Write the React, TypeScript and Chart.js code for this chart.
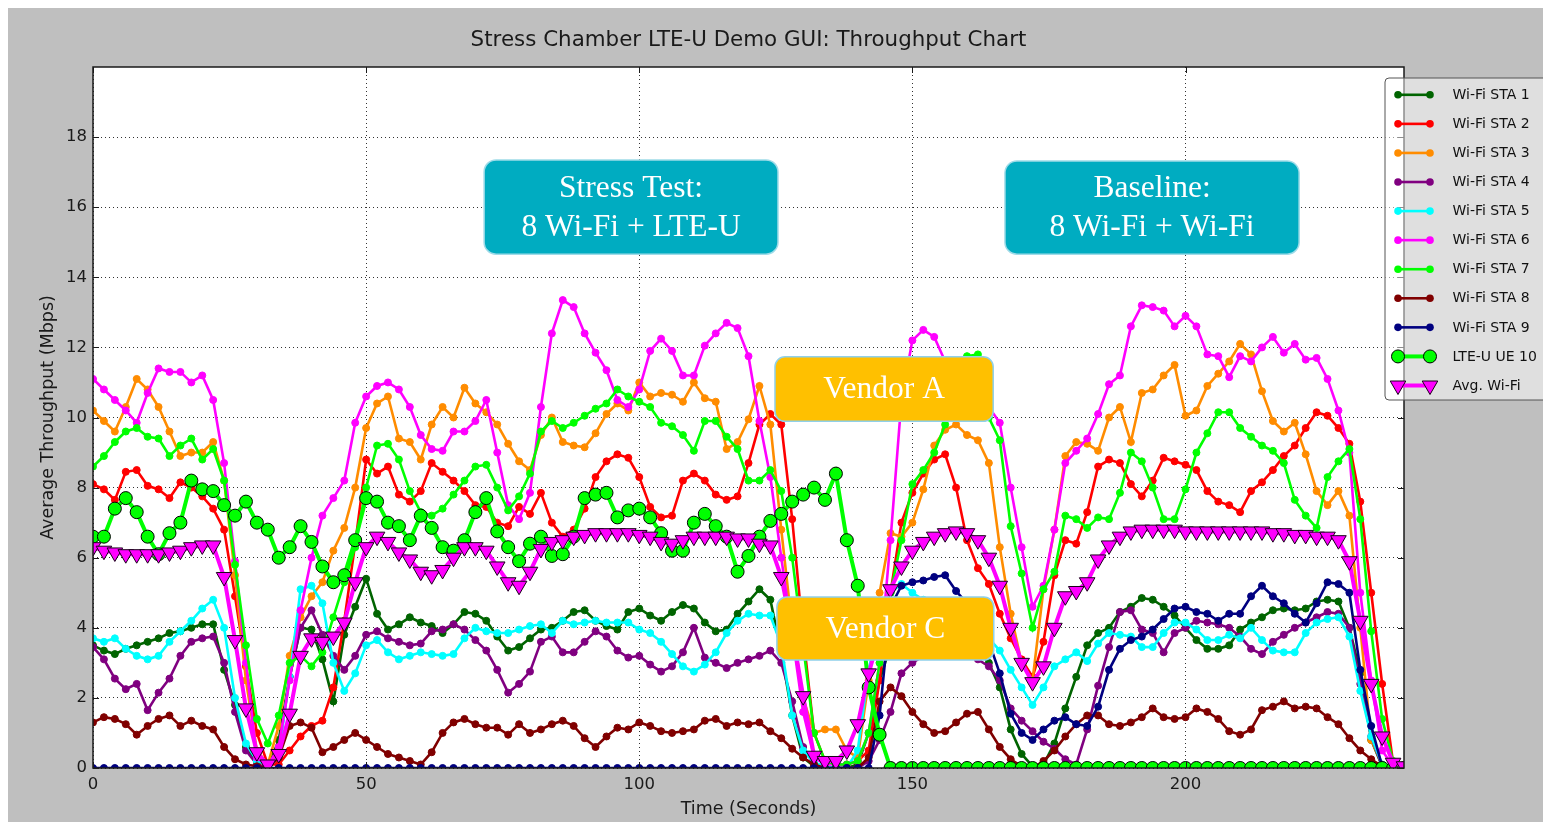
import React, { useEffect, useRef } from 'react';
import { Chart, registerables } from 'chart.js';

Chart.register(...registerables);

// ---------- data (sampled every 2 s) ----------
const TIME = [
  0, 2, 4, 6, 8, 10, 12, 14, 16, 18, 20, 22, 24, 26, 28, 30, 32, 34, 36, 38,
  40, 42, 44, 46, 48, 50, 52, 54, 56, 58, 60, 62, 64, 66, 68, 70, 72, 74, 76, 78,
  80, 82, 84, 86, 88, 90, 92, 94, 96, 98, 100, 102, 104, 106, 108, 110, 112, 114, 116, 118,
  120, 122, 124, 126, 128, 130, 132, 134, 136, 138, 140, 142, 144, 146, 148, 150, 152, 154, 156, 158,
  160, 162, 164, 166, 168, 170, 172, 174, 176, 178, 180, 182, 184, 186, 188, 190, 192, 194, 196, 198,
  200, 202, 204, 206, 208, 210, 212, 214, 216, 218, 220, 222, 224, 226, 228, 230, 232, 234, 236, 238,
  240,
];

const STA1 = [
  3.5, 3.35, 3.25, 3.4, 3.5, 3.6, 3.7, 3.85, 3.9, 4.0, 4.1, 4.1,
  2.8, 1.8, 0.6, 0.1, 0.0, 0.8, 2.6, 4.0, 3.95, 3.1, 1.9, 3.8, 4.6, 5.4, 4.4, 3.95, 4.1, 4.3, 4.15,
  4.05, 3.85, 4.1, 4.45, 4.4, 4.2, 3.75, 3.35, 3.45, 3.7, 3.95, 4.0, 4.2, 4.45, 4.5,
  4.2, 4.05, 3.95, 4.45, 4.55, 4.35, 4.2, 4.45, 4.65, 4.55, 4.15, 3.9, 3.95, 4.4, 4.75,
  5.1, 4.8, 3.3, 1.5, 0.3, 0.05, 0, 0, 0, 0.1, 1.0, 2.5, 3.5, 3.8, 3.9,
  3.9, 3.8, 3.8, 3.7, 3.6, 3.4, 3.0, 2.3, 1.1, 0.4, 0.05, 0.1, 0.7, 1.7, 2.6,
  3.5, 3.85, 4.0, 4.45, 4.6, 4.85, 4.8, 4.6, 4.35, 4.0, 3.65, 3.4, 3.4, 3.5, 3.95,
  4.15, 4.3, 4.5, 4.55, 4.5, 4.55, 4.75, 4.8, 4.75, 4.0, 2.7, 0.8, 0.05, 0, 0,
];

const STA2 = [
  8.1, 7.95, 7.65, 8.45, 8.5, 8.05, 7.95, 7.7, 8.15, 8.0, 7.75, 7.4,
  6.8, 4.9, 2.9, 1.0, 0.1, 0.1, 0.5, 0.9, 1.2, 1.35, 2.3, 4.2, 6.4, 8.8, 8.4, 8.6, 7.8, 7.6, 7.9,
  8.7, 8.45, 8.2, 7.9, 7.5, 7.45, 7.0, 6.9, 7.45, 7.25, 7.85, 7.0, 6.6, 6.8, 7.4,
  8.3, 8.75, 8.95, 8.85, 8.3, 7.45, 7.15, 7.2, 8.2, 8.4, 8.2, 7.8, 7.65, 7.75, 8.7,
  9.8, 10.1, 9.8, 7.1, 3.8, 1.0, 0.2, 0.1, 0.1, 0.2, 0.5, 2.5, 5.0, 7.0, 7.85,
  8.4, 8.8, 8.95, 8.0, 6.5, 5.7, 5.25, 4.4, 3.7, 3.1, 2.6, 3.6, 5.5, 6.5, 6.4,
  7.3, 8.6, 8.8, 8.7, 8.1, 7.75, 8.2, 8.85, 8.75, 8.65, 8.5, 7.9, 7.6, 7.5, 7.3,
  7.9, 8.15, 8.5, 8.9, 9.2, 9.7, 10.15, 10.05, 9.7, 9.25, 7.6, 5.0, 2.4, 0.15, 0,
];

const STA3 = [
  10.2, 9.9, 9.6, 10.3, 11.1, 10.8, 10.3, 9.6, 8.9, 9.0, 9.0, 9.3,
  8.2, 5.5, 2.5, 0.5, 0.1, 1.2, 3.2, 4.3, 4.9, 5.3, 6.2, 6.85, 8.0, 9.7, 10.4, 10.6, 9.4, 9.3, 8.8,
  9.8, 10.3, 10.0, 10.85, 10.4, 10.15, 9.8, 9.25, 8.75, 8.5, 9.5, 10.0, 9.3, 9.2, 9.15,
  9.55, 10.1, 10.4, 10.2, 11.0, 10.6, 10.7, 10.65, 10.45, 11.0, 10.55, 10.45, 9.1, 9.3, 9.95,
  10.9, 9.8, 6.8, 4.0, 2.0, 1.0, 1.1, 1.1, 0.5, 0.3, 2.5, 5.0, 6.7, 6.6, 7.0,
  7.95, 9.2, 9.65, 9.8, 9.5, 9.35, 8.7, 6.3, 4.4, 3.0, 2.5, 5.1, 6.8, 8.9, 9.3,
  9.25, 9.05, 10.0, 10.3, 9.3, 10.7, 10.8, 11.2, 11.5, 10.05, 10.2, 10.9, 11.25, 11.6, 12.1,
  11.8, 10.75, 9.9, 9.6, 9.85, 8.95, 7.9, 7.5, 7.9, 7.2, 4.0, 0.8, 0.1, 0, 0,
];

const STA4 = [
  3.45, 3.1, 2.55, 2.25, 2.4, 1.65, 2.15, 2.55, 3.2, 3.6, 3.7, 3.75,
  3.0, 1.6, 0.5, 0.1, 0.0, 0.5, 2.6, 4.0, 4.5, 3.8, 3.2, 2.8, 3.2, 3.8, 3.9, 3.7, 3.6, 3.5, 3.55,
  3.9, 3.95, 4.1, 3.95, 3.65, 3.35, 2.8, 2.15, 2.4, 2.75, 3.6, 3.75, 3.3, 3.3, 3.6,
  3.9, 3.75, 3.35, 3.15, 3.2, 2.95, 2.75, 2.9, 3.3, 4.0, 3.15, 3.0, 2.85, 3.0, 3.1,
  3.2, 3.35, 3.0, 1.9, 0.6, 0.1, 0, 0, 0, 0, 0.2, 0.8, 1.6, 2.7, 3.0,
  3.2, 3.3, 3.3, 3.3, 3.2, 3.1, 2.9, 2.5, 1.7, 1.35, 1.05, 0.75, 0.55, 0.25, 0.1,
  1.1, 2.35, 3.45, 4.45, 4.5, 3.95, 3.85, 3.3, 3.85, 4.0, 4.2, 4.15, 4.1, 4.0, 3.75,
  3.4, 3.25, 3.6, 3.8, 4.0, 4.15, 4.3, 4.45, 4.4, 4.0, 2.4, 0.9, 0.05, 0, 0,
];

const STA5 = [
  3.7, 3.6, 3.7, 3.4, 3.2, 3.1, 3.2, 3.6, 3.9, 4.2, 4.55, 4.8,
  4.0, 2.0, 0.7, 0.2, 0.1, 0.4, 2.6, 5.1, 5.2, 4.7, 3.0, 2.2, 2.7, 3.5, 3.65, 3.3, 3.1, 3.2, 3.3,
  3.25, 3.2, 3.25, 3.7, 4.0, 3.9, 3.85, 3.85, 3.95, 4.05, 4.1, 3.85, 4.2, 4.1, 4.15,
  4.2, 4.15, 4.15, 4.15, 3.95, 3.85, 3.6, 3.25, 2.9, 2.75, 2.95, 3.3, 3.85, 4.2, 4.4,
  4.35, 4.35, 3.5, 1.5, 0.5, 0.15, 0.05, 0, 0, 0.5, 2.8, 4.2, 5.0, 5.25, 5.0,
  4.8, 4.6, 4.5, 4.4, 4.3, 4.0, 3.7, 3.35, 2.8, 2.3, 1.8, 2.3, 2.9, 3.1, 3.3,
  3.05, 3.55, 3.85, 3.8, 3.75, 3.45, 3.45, 3.85, 4.15, 4.15, 3.95, 3.65, 3.65, 3.8, 3.7,
  4.0, 3.65, 3.35, 3.3, 3.3, 3.85, 4.15, 4.25, 4.3, 3.75, 2.2, 0.9, 0.1, 0, 0,
];

const STA6 = [
  11.1, 10.8, 10.5, 10.2, 9.85, 10.7, 11.4, 11.3, 11.3, 11.0, 11.2, 10.5,
  8.7, 5.9, 3.0, 0.3, 0.05, 0.6, 2.5, 4.5, 6.0, 7.2, 7.7, 8.2, 9.85, 10.6, 10.9, 11.0, 10.8, 10.3, 9.5,
  9.1, 9.05, 9.6, 9.6, 9.9, 10.5, 9.0, 7.5, 7.1, 7.85, 10.3, 12.4, 13.35, 13.15, 12.4,
  11.85, 11.35, 10.5, 10.3, 10.8, 11.9, 12.25, 11.9, 11.2, 11.2, 12.05, 12.4, 12.7, 12.55, 11.75,
  9.9, 8.3, 6.0, 3.8, 1.6, 0.3, 0.1, 0.1, 0.1, 0.2, 1.0, 3.0, 6.5, 10.5, 12.2,
  12.5, 12.3, 11.6, 11.2, 10.9, 10.6, 10.3, 9.85, 8.0, 6.3, 4.6, 5.2, 6.8, 8.7, 9.05,
  9.4, 10.1, 10.95, 11.2, 12.6, 13.2, 13.15, 13.05, 12.6, 12.9, 12.6, 11.8, 11.75, 11.15, 11.75,
  11.6, 12.0, 12.3, 11.85, 12.1, 11.65, 11.7, 11.1, 10.2, 9.0, 5.0, 2.5, 0.5, 0.05, 0,
];

const STA7 = [
  8.6, 8.9, 9.3, 9.6, 9.7, 9.45, 9.4, 8.9, 9.2, 9.4, 8.8, 9.1,
  8.2, 5.8, 3.5, 1.4, 0.7, 1.5, 3.0, 3.2, 2.9, 3.3, 4.3, 5.3, 6.3, 8.0, 9.2, 9.25, 8.8, 7.9, 7.3,
  7.2, 7.4, 7.8, 8.2, 8.6, 8.65, 8.0, 7.35, 7.75, 8.4, 9.6, 9.9, 9.7, 9.85, 10.05,
  10.25, 10.4, 10.8, 10.6, 10.45, 10.3, 9.85, 9.75, 9.5, 9.05, 9.9, 9.9, 9.45, 9.1, 8.2,
  8.2, 8.5, 7.9, 6.0, 3.5, 1.0, 0.2, 0.1, 0.1, 0.2, 1.0, 3.0, 5.0, 6.5, 8.1,
  8.5, 9.0, 9.8, 11.0, 11.75, 11.8, 10.0, 9.35, 6.9, 5.55, 4.0, 5.1, 5.6, 7.2, 7.1,
  6.85, 7.15, 7.1, 7.85, 9.0, 8.75, 8.0, 7.1, 7.1, 7.95, 9.0, 9.55, 10.15, 10.15, 9.7,
  9.45, 9.2, 9.05, 8.7, 7.65, 7.2, 6.85, 8.3, 8.75, 9.1, 7.1, 3.9, 1.4, 0.2, 0,
];

const STA8 = [
  1.3, 1.45, 1.4, 1.25, 0.95, 1.2, 1.4, 1.5, 1.2, 1.35, 1.2, 1.1,
  0.6, 0.25, 0.1, 0.05, 0.0, 0.3, 1.2, 1.3, 1.15, 0.45, 0.6, 0.8, 1.0, 0.8, 0.6, 0.4, 0.3, 0.2, 0.1,
  0.45, 1.0, 1.3, 1.4, 1.25, 1.15, 1.15, 0.95, 1.25, 1.0, 1.1, 1.25, 1.35, 1.2, 0.85,
  0.6, 0.9, 1.15, 1.1, 1.3, 1.2, 1.05, 1.0, 1.05, 1.1, 1.35, 1.4, 1.2, 1.3, 1.25,
  1.3, 1.05, 0.85, 0.55, 0.3, 0.1, 0, 0, 0, 0, 0.3, 1.9, 2.3, 2.05, 1.6,
  1.25, 1.0, 1.05, 1.3, 1.55, 1.6, 1.1, 0.6, 0.25, 0.05, 0, 0.2, 0.5, 0.9, 1.25,
  1.5, 1.5, 1.25, 1.2, 1.3, 1.45, 1.7, 1.45, 1.4, 1.45, 1.7, 1.6, 1.4, 1.05, 0.95,
  1.1, 1.65, 1.75, 1.9, 1.7, 1.75, 1.7, 1.45, 1.25, 0.85, 0.5, 0.25, 0.05, 0, 0,
];

const STA9 = [
  0, 0, 0, 0, 0, 0, 0, 0, 0, 0, 0, 0,
  0, 0, 0, 0, 0, 0, 0, 0, 0, 0, 0, 0, 0, 0, 0, 0, 0, 0, 0,
  0, 0, 0, 0, 0, 0, 0, 0, 0, 0, 0, 0, 0, 0, 0,
  0, 0, 0, 0, 0, 0, 0, 0, 0, 0, 0, 0, 0, 0, 0,
  0, 0, 0, 0, 0, 0, 0, 0, 0, 0, 0, 1.5, 4.6, 5.2, 5.3,
  5.35, 5.45, 5.5, 5.05, 4.7, 4.2, 3.6, 2.7, 1.55, 1.0, 0.8, 1.1, 1.35, 1.45, 1.25,
  1.2, 1.75, 2.8, 3.4, 3.65, 3.75, 3.95, 4.25, 4.55, 4.6, 4.45, 4.4, 4.2, 4.4, 4.4,
  4.9, 5.2, 4.9, 4.7, 4.4, 4.15, 4.7, 5.3, 5.25, 5.0, 2.8, 1.2, 0.05, 0, 0,
];

const LTE_UE10 = [
  6.6, 6.6, 7.4, 7.7, 7.3, 6.6, 6.1, 6.7, 7.0, 8.2, 7.95, 7.9,
  7.5, 7.2, 7.6, 7.0, 6.8, 6.0, 6.3, 6.9, 6.45, 5.75, 5.3, 5.5, 6.5, 7.7, 7.6, 7.0, 6.9, 6.5, 7.2,
  6.85, 6.3, 6.2, 6.5, 7.3, 7.7, 6.75, 6.3, 5.9, 6.4, 6.6, 6.05, 6.1, 6.6, 7.7,
  7.8, 7.85, 7.15, 7.35, 7.4, 7.15, 6.7, 6.2, 6.2, 7.0, 7.25, 6.9, 6.6, 5.6, 6.05,
  6.6, 7.05, 7.25, 7.6, 7.8, 8.0, 7.65, 8.4, 6.5, 5.2, 2.3, 0.95, 0, 0, 0,
  0, 0, 0, 0, 0, 0, 0, 0, 0, 0, 0, 0, 0, 0, 0,
  0, 0, 0, 0, 0, 0, 0, 0, 0, 0, 0, 0, 0, 0, 0,
  0, 0, 0, 0, 0, 0, 0, 0, 0, 0, 0, 0, 0, 0, 0,
];

const AVG_WIFI = [
  6.3, 6.2, 6.15, 6.1, 6.1, 6.1, 6.1, 6.15, 6.2, 6.3, 6.35, 6.35,
  5.45, 3.65, 1.7, 0.45, 0.1, 0.4, 1.55, 3.2, 3.7, 3.6, 3.75, 4.15, 5.3, 6.3, 6.6, 6.45, 6.15, 5.95, 5.6,
  5.5, 5.65, 6.0, 6.3, 6.3, 6.2, 5.75, 5.3, 5.2, 5.6, 6.25, 6.45, 6.5, 6.6, 6.65,
  6.7, 6.7, 6.7, 6.7, 6.65, 6.6, 6.45, 6.4, 6.5, 6.6, 6.6, 6.6, 6.6, 6.55, 6.55,
  6.4, 6.35, 5.45, 3.9, 2.05, 0.35, 0.2, 0.2, 0.5, 1.25, 2.7, 3.8, 5.1, 5.75, 6.2,
  6.45, 6.6, 6.7, 6.75, 6.7, 6.5, 6.0, 5.2, 4.0, 3.0, 2.45, 2.9, 4.0, 4.9, 5.05,
  5.3, 5.95, 6.35, 6.6, 6.75, 6.8, 6.8, 6.8, 6.8, 6.75, 6.75, 6.75, 6.75, 6.75, 6.75,
  6.75, 6.75, 6.7, 6.7, 6.65, 6.65, 6.6, 6.6, 6.5, 5.9, 4.2, 2.4, 0.9, 0.15, 0.05,
];

const X_TICKS = [0, 50, 100, 150, 200];
const Y_TICKS = [0, 2, 4, 6, 8, 10, 12, 14, 16, 18];

const TITLE = 'Stress Chamber LTE-U Demo GUI: Throughput Chart';
const X_TITLE = 'Time (Seconds)';
const Y_TITLE = 'Average Throughput (Mbps)';

type Kind = 'small' | 'lte' | 'avg';
const SERIES: { label: string; values: number[]; color: string; kind: Kind }[] = [
  { label: 'Wi-Fi STA 1', values: STA1, color: '#006400', kind: 'small' },
  { label: 'Wi-Fi STA 2', values: STA2, color: '#ff0000', kind: 'small' },
  { label: 'Wi-Fi STA 3', values: STA3, color: '#ff8c00', kind: 'small' },
  { label: 'Wi-Fi STA 4', values: STA4, color: '#800080', kind: 'small' },
  { label: 'Wi-Fi STA 5', values: STA5, color: '#00ffff', kind: 'small' },
  { label: 'Wi-Fi STA 6', values: STA6, color: '#ff00ff', kind: 'small' },
  { label: 'Wi-Fi STA 7', values: STA7, color: '#00ff00', kind: 'small' },
  { label: 'Wi-Fi STA 8', values: STA8, color: '#800000', kind: 'small' },
  { label: 'Wi-Fi STA 9', values: STA9, color: '#000080', kind: 'small' },
  { label: 'LTE-U UE 10', values: LTE_UE10, color: '#00ff00', kind: 'lte' },
  { label: 'Avg. Wi-Fi', values: AVG_WIFI, color: '#ff00ff', kind: 'avg' },
];

// Annotation boxes, in data coordinates
const BOXES = [
  { x0: 71.6, x1: 125.4, y0: 17.35, y1: 14.66, fill: '#00acc1', edge: '#9fdbe8', r: 12, lines: ['Stress Test:', '8 Wi-Fi + LTE-U'] },
  { x0: 166.95, x1: 220.8, y0: 17.32, y1: 14.66, fill: '#00acc1', edge: '#9fdbe8', r: 12, lines: ['Baseline:', '8 Wi-Fi + Wi-Fi'] },
  { x0: 124.85, x1: 164.8, y0: 11.73, y1: 9.89, fill: '#ffc000', edge: '#8fd0ea', r: 10, lines: ['Vendor A'] },
  { x0: 125.2, x1: 164.9, y0: 4.88, y1: 3.08, fill: '#ffc000', edge: '#8fd0ea', r: 10, lines: ['Vendor C'] },
];

const SANS = '"DejaVu Sans", "Liberation Sans", sans-serif';
const SERIF = '"Liberation Serif", "DejaVu Serif", serif';

function rr(ctx: CanvasRenderingContext2D, x: number, y: number, w: number, h: number, r: number) {
  ctx.beginPath();
  ctx.moveTo(x + r, y);
  ctx.lineTo(x + w - r, y);
  ctx.arcTo(x + w, y, x + w, y + r, r);
  ctx.lineTo(x + w, y + h - r);
  ctx.arcTo(x + w, y + h, x + w - r, y + h, r);
  ctx.lineTo(x + r, y + h);
  ctx.arcTo(x, y + h, x, y + h - r, r);
  ctx.lineTo(x, y + r);
  ctx.arcTo(x, y, x + r, y, r);
  ctx.closePath();
}

function marker(ctx: CanvasRenderingContext2D, kind: Kind, x: number, y: number, color: string) {
  ctx.save();
  ctx.fillStyle = color;
  if (kind === 'avg') {
    const r = 9;
    ctx.beginPath();
    for (let k = 0; k < 3; k++) {
      const a = Math.PI + (k * 2 * Math.PI) / 3;
      const px = x + Math.sin(a) * r;
      const py = y - Math.cos(a) * r;
      if (k === 0) ctx.moveTo(px, py);
      else ctx.lineTo(px, py);
    }
    ctx.closePath();
    ctx.fill();
    ctx.strokeStyle = '#1a001a';
    ctx.lineWidth = 1;
    ctx.stroke();
  } else {
    const r = kind === 'lte' ? 6.5 : 3.8;
    ctx.beginPath();
    ctx.arc(x, y, r, 0, Math.PI * 2);
    ctx.fill();
    if (kind === 'lte') {
      ctx.strokeStyle = '#000';
      ctx.lineWidth = 1;
      ctx.stroke();
    }
  }
  ctx.restore();
}

export default function App() {
  const ref = useRef<HTMLCanvasElement>(null);

  useEffect(() => {
    document.body.style.margin = '8px 0 0 8px';
    document.body.style.overflow = 'hidden';
    const canvas = ref.current;
    if (!canvas) return;

    const n = SERIES.length;
    const datasets = SERIES.map((s, i) => {
      const isLte = s.kind === 'lte';
      const isAvg = s.kind === 'avg';
      return {
        label: s.label,
        data: TIME.map((t, j) => ({ x: t, y: s.values[j] })),
        borderColor: s.color,
        backgroundColor: s.color,
        borderWidth: isLte || isAvg ? 4 : 2.6,
        pointRadius: isLte ? 6.5 : isAvg ? 9 : 3.5,
        pointStyle: isAvg ? 'triangle' : 'circle',
        pointRotation: isAvg ? 180 : 0,
        pointBackgroundColor: s.color,
        pointBorderColor: isLte ? '#000000' : isAvg ? '#1a001a' : s.color,
        pointBorderWidth: 1,
        tension: 0,
        fill: false,
        order: n - i,
      };
    });

    const framePlugin = {
      id: 'frame',
      beforeDraw(chart: any) {
        const { ctx, chartArea: a } = chart;
        ctx.save();
        ctx.fillStyle = '#bfbfbf';
        ctx.fillRect(0, 0, chart.width, chart.height);
        ctx.fillStyle = '#ffffff';
        ctx.fillRect(a.left, a.top, a.right - a.left, a.bottom - a.top);
        ctx.restore();
      },
      afterDraw(chart: any) {
        const { ctx, chartArea: a, scales } = chart;
        const xs = scales.x;
        const ys = scales.y;
        ctx.save();

        // axes frame
        ctx.strokeStyle = '#1a1a1a';
        ctx.lineWidth = 1.5;
        ctx.strokeRect(a.left, a.top, a.right - a.left, a.bottom - a.top);

        // inward ticks
        ctx.lineWidth = 1;
        ctx.beginPath();
        Y_TICKS.forEach((v) => {
          const py = Math.round(ys.getPixelForValue(v)) + 0.5;
          ctx.moveTo(a.left, py); ctx.lineTo(a.left + 6, py);
          ctx.moveTo(a.right, py); ctx.lineTo(a.right - 6, py);
        });
        X_TICKS.forEach((v) => {
          const px = Math.round(xs.getPixelForValue(v)) + 0.5;
          ctx.moveTo(px, a.bottom); ctx.lineTo(px, a.bottom - 6);
          ctx.moveTo(px, a.top); ctx.lineTo(px, a.top + 6);
        });
        ctx.stroke();

        // annotation boxes
        BOXES.forEach((b) => {
          const x0 = xs.getPixelForValue(b.x0);
          const x1 = xs.getPixelForValue(b.x1);
          const y0 = ys.getPixelForValue(b.y0);
          const y1 = ys.getPixelForValue(b.y1);
          rr(ctx, x0, y0, x1 - x0, y1 - y0, b.r);
          ctx.fillStyle = b.fill;
          ctx.fill();
          ctx.strokeStyle = b.edge;
          ctx.lineWidth = 1.5;
          ctx.stroke();
          ctx.fillStyle = '#ffffff';
          ctx.font = `31.5px ${SERIF}`;
          ctx.textAlign = 'center';
          ctx.textBaseline = 'middle';
          const cx = (x0 + x1) / 2;
          const cy = (y0 + y1) / 2;
          const lh = 39;
          b.lines.forEach((ln, k) => {
            const off = (k - (b.lines.length - 1) / 2) * lh;
            ctx.fillText(ln, cx, cy + off + 1);
          });
        });

        // legend
        const lx = 1377, ly = 70, lw = 164, lhgt = 322;
        rr(ctx, lx, ly, lw, lhgt, 4);
        ctx.fillStyle = 'rgba(255,255,255,0.5)';
        ctx.fill();
        ctx.strokeStyle = '#555555';
        ctx.lineWidth = 1;
        ctx.stroke();
        ctx.font = `14px ${SANS}`;
        ctx.textAlign = 'left';
        ctx.textBaseline = 'middle';
        SERIES.forEach((s, i) => {
          const y = 86.8 + i * 29.07;
          ctx.strokeStyle = s.color;
          ctx.lineWidth = s.kind === 'small' ? 2.6 : 4;
          ctx.beginPath();
          ctx.moveTo(1390, y);
          ctx.lineTo(1422, y);
          ctx.stroke();
          marker(ctx, s.kind, 1390, y, s.color);
          marker(ctx, s.kind, 1422, y, s.color);
          ctx.fillStyle = '#111111';
          ctx.fillText(s.label, 1444.5, y + 0.5);
        });

        // titles
        const midX = (a.left + a.right) / 2;
        const midY = (a.top + a.bottom) / 2;
        ctx.fillStyle = '#1a1a1a';
        ctx.textAlign = 'center';
        ctx.textBaseline = 'alphabetic';
        ctx.font = `21.4px ${SANS}`;
        ctx.fillText(TITLE, midX, 38);
        ctx.font = `17.5px ${SANS}`;
        ctx.textBaseline = 'middle';
        ctx.fillText(X_TITLE, midX, 801);
        ctx.save();
        ctx.translate(40, midY);
        ctx.rotate(-Math.PI / 2);
        ctx.fillText(Y_TITLE, 0, 0);
        ctx.restore();

        ctx.restore();
      },
    };

    const chart = new Chart(canvas, {
      type: 'line',
      data: { datasets: datasets as any },
      options: {
        responsive: false,
        animation: false,
        devicePixelRatio: 1,
        events: [],
        layout: { padding: { top: 59, right: 139, bottom: 0, left: 0 } },
        plugins: {
          legend: { display: false },
          title: { display: false },
          tooltip: { enabled: false },
        },
        scales: {
          x: {
            type: 'linear',
            min: 0,
            max: 240,
            afterBuildTicks: (axis: any) => {
              axis.ticks = X_TICKS.map((v) => ({ value: v }));
            },
            afterFit: (axis: any) => {
              axis.height = 54;
            },
            grid: { color: 'rgba(0,0,0,0.8)', lineWidth: 1, drawTicks: false },
            border: { display: false, dash: [1, 3] },
            ticks: {
              padding: 7,
              color: '#1a1a1a',
              font: { size: 16.5, family: SANS },
              maxRotation: 0,
              autoSkip: false,
            },
          },
          y: {
            type: 'linear',
            min: 0,
            max: 20,
            afterBuildTicks: (axis: any) => {
              axis.ticks = Y_TICKS.map((v) => ({ value: v }));
            },
            afterFit: (axis: any) => {
              axis.width = 85;
            },
            grid: { color: 'rgba(0,0,0,0.8)', lineWidth: 1, drawTicks: false },
            border: { display: false, dash: [1, 3] },
            ticks: {
              padding: 6,
              color: '#1a1a1a',
              font: { size: 16.5, family: SANS },
              autoSkip: false,
            },
          },
        },
      } as any,
      plugins: [framePlugin],
    });

    return () => chart.destroy();
  }, []);

  return (
    <canvas
      ref={ref}
      width={1535}
      height={814}
      style={{ display: 'block', width: '1535px', height: '814px' }}
    />
  );
}
